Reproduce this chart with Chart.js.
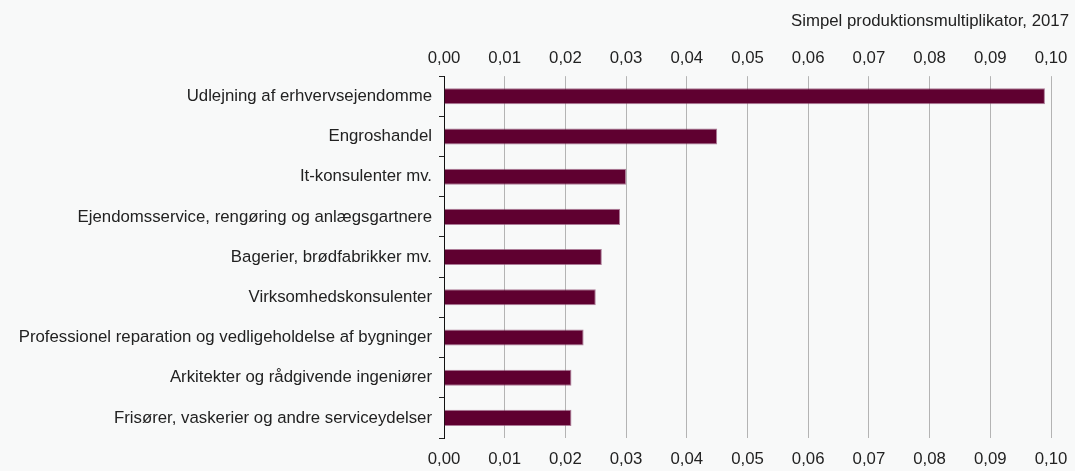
<!DOCTYPE html>
<html>
<head>
<meta charset="utf-8">
<script src="https://cdn.jsdelivr.net/npm/chart.js@4"></script>
<style>
  html, body { margin: 0; padding: 0; background: #f8f9f9; }
  #wrap { width: 1075px; height: 471px; }
</style>
</head>
<body>
<div id="wrap"><canvas id="chart" width="1075" height="471"></canvas></div>
<script>
// data
const categories = [
  'Udlejning af erhvervsejendomme',
  'Engroshandel',
  'It-konsulenter mv.',
  'Ejendomsservice, rengøring og anlægsgartnere',
  'Bagerier, brødfabrikker mv.',
  'Virksomhedskonsulenter',
  'Professionel reparation og vedligeholdelse af bygninger',
  'Arkitekter og rådgivende ingeniører',
  'Frisører, vaskerier og andre serviceydelser'
];
const multiplikator = [0.099, 0.045, 0.030, 0.029, 0.026, 0.025, 0.023, 0.021, 0.021];
const axisMin = 0;
const axisMax = 0.10;
const axisStep = 0.01;
const titleText = 'Simpel produktionsmultiplikator, 2017';

const fmt = v => Number(v).toFixed(2).replace('.', ',');

Chart.defaults.font.family = '"Liberation Sans", Arial, sans-serif';
Chart.defaults.font.size = 16.8;
Chart.defaults.color = '#222';

const ctx = document.getElementById('chart').getContext('2d');
const chart = new Chart(ctx, {
  type: 'bar',
  data: {
    labels: categories,
    datasets: [{
      data: multiplikator,
      backgroundColor: '#5f0030',
      borderColor: 'rgba(140, 70, 110, 0.7)',
      borderWidth: 1,
      barPercentage: 0.4,
      categoryPercentage: 1,
      xAxisID: 'x'
    }]
  },
  options: {
    indexAxis: 'y',
    responsive: false,
    animation: false,
    layout: { padding: { left: 0, right: 6, top: 0, bottom: 0 } },
    plugins: {
      legend: { display: false },
      tooltip: { enabled: false },
      title: {
        display: true,
        text: titleText,
        align: 'end',
        color: '#222',
        font: { size: 16.8, weight: 'normal' },
        padding: { top: 11, bottom: 8 }
      }
    },
    scales: {
      x: {
        position: 'bottom',
        min: axisMin, max: axisMax,
        ticks: { stepSize: axisStep, callback: fmt, padding: 11, color: '#222' },
        grid: { color: '#b4b4b4', lineWidth: 1, drawTicks: false },
        border: { display: false },
        afterFit: s => { s.height = 33; s.paddingRight = 24; }
      },
      x2: {
        position: 'top',
        type: 'linear',
        min: axisMin, max: axisMax,
        ticks: { stepSize: axisStep, callback: fmt, padding: 8, color: '#222' },
        grid: { display: false, drawTicks: false },
        border: { display: false },
        afterFit: s => { s.height = 37; s.paddingRight = 24; }
      },
      y: {
        ticks: { padding: 7, color: '#222' },
        grid: { drawOnChartArea: false, drawTicks: true, tickLength: 5, color: '#222', offset: true },
        border: { display: true, color: '#111', width: 1 },
        afterFit: s => { s.width = 444; }
      }
    }
  }
});
</script>
</body>
</html>
